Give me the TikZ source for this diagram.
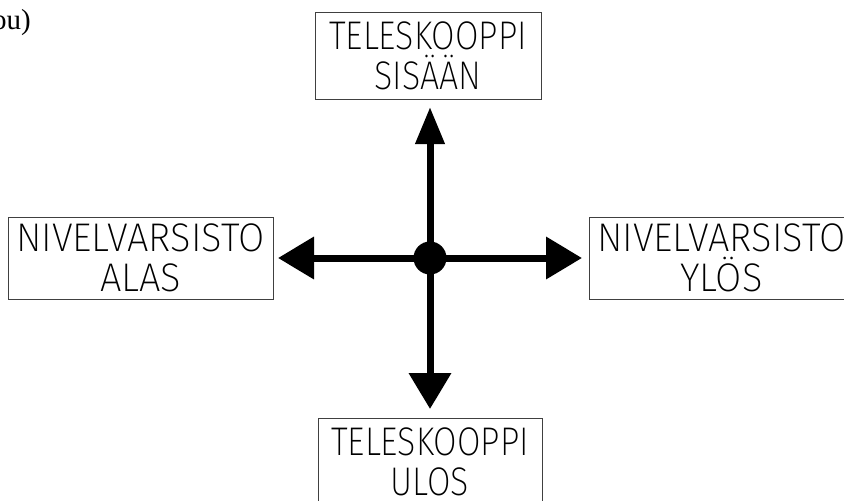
\documentclass[tikz,border=0pt]{standalone}
\usepackage{fontspec}
\setmainfont{Liberation Serif}
\newfontfamily\cad[FakeStretch=0.85]{Fira Sans ExtraLight}
\newfontfamily\cadwide[FakeStretch=0.95]{Fira Sans ExtraLight}
\usetikzlibrary{arrows.meta}
\begin{document}
\begin{tikzpicture}[x=1pt,y=-1pt,
  cadbox/.style={draw=black!75,line width=0.9pt,inner sep=0pt,align=center,
    font=\cad\fontsize{40}{40}\selectfont},
  cadwidebox/.style={cadbox,font=\cadwide\fontsize{40}{40}\selectfont},
  hvarrow/.style={line width=7pt,-{Triangle[length=36pt,width=41pt]}},
  varrow/.style={line width=7pt,-{Triangle[length=37pt,width=28pt]}}]
\useasboundingbox (0,0) rectangle (844,501);
\clip (0,0) rectangle (844,501);
\node[font=\fontsize{29}{29}\selectfont,anchor=base west,inner sep=0pt] (frag) at (-8,29) {ou)};
\node[cadbox,minimum width=226pt,minimum height=87pt] (top) at (428,55.5) {TELESKOOPPI\\SISÄÄN};
\node[cadwidebox,minimum width=265pt,minimum height=82pt] (left) at (140.5,258) {NIVELVARSISTO\\ALAS};
\node[cadwidebox,minimum width=265pt,minimum height=82pt] (right) at (721.5,258) {NIVELVARSISTO\\YLÖS};
\node[cadbox,minimum width=224pt,minimum height=87pt] (bottom) at (430,461.5) {TELESKOOPPI\\ULOS};
\node[circle,fill=black,minimum size=33pt,inner sep=0pt] (c) at (430,258) {};
\coordinate (tu) at (430,107);
\coordinate (tl) at (278,258);
\coordinate (tr) at (582,258);
\coordinate (td) at (430,409);
\draw[varrow] (c.center) -- (tu);
\draw[hvarrow] (c.center) -- (tl);
\draw[hvarrow] (c.center) -- (tr);
\draw[hvarrow] (c.center) -- (td);
\end{tikzpicture}
\end{document}
